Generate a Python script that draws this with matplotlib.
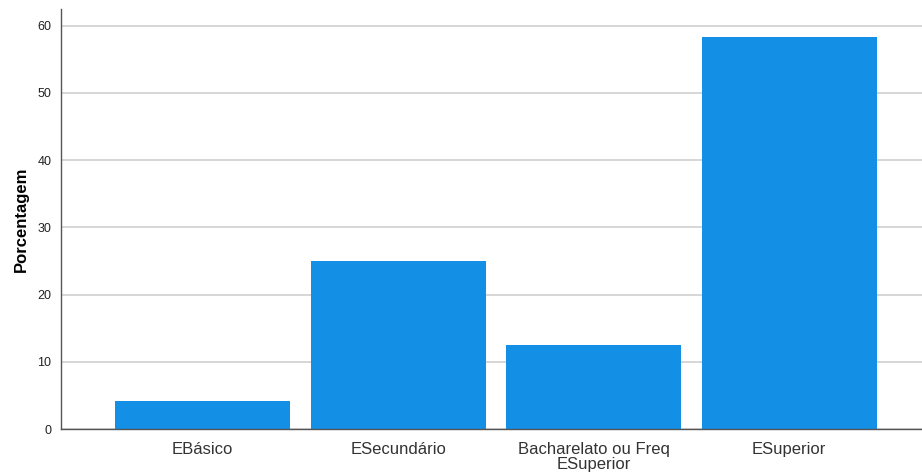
import matplotlib.pyplot as plt
import numpy as np

plt.rcParams['font.family'] = ['Liberation Sans', 'DejaVu Sans']

# education level categories and percentages
categories = ['EBásico', 'ESecundário', 'Bacharelato ou Freq\nESuperior', 'ESuperior']
percent = [4.17, 25.0, 12.5, 58.33]
yticks = [0, 10, 20, 30, 40, 50, 60]

fig = plt.figure(figsize=(9.22, 4.72), dpi=100)
ax = fig.add_axes([0.0662, 0.0911, 0.9338, 0.8899])

x = np.arange(len(categories))
ax.set_axisbelow(True)
ax.yaxis.grid(True, color='#d0d0d0', linewidth=1.2)
ax.bar(x, percent, width=0.895, color='#1390e6')

ax.set_xlim(-0.724, 3.68)
ax.set_ylim(0, 62.5)
ax.set_yticks(yticks)
ax.set_xticks(x)
ax.set_xticklabels(categories, fontsize=12, color='#333333', linespacing=1.05)
ax.tick_params(axis='y', labelsize=9, labelcolor='#222222', length=0, pad=7)
ax.tick_params(axis='x', length=0, pad=9)

ax.set_ylabel('Porcentagem', fontsize=12, fontweight='bold', labelpad=6)

for s in ['top', 'right']:
    ax.spines[s].set_visible(False)
for s in ['left', 'bottom']:
    ax.spines[s].set_color('#555555')
    ax.spines[s].set_linewidth(1.0)

plt.savefig('out.png', dpi=100)
